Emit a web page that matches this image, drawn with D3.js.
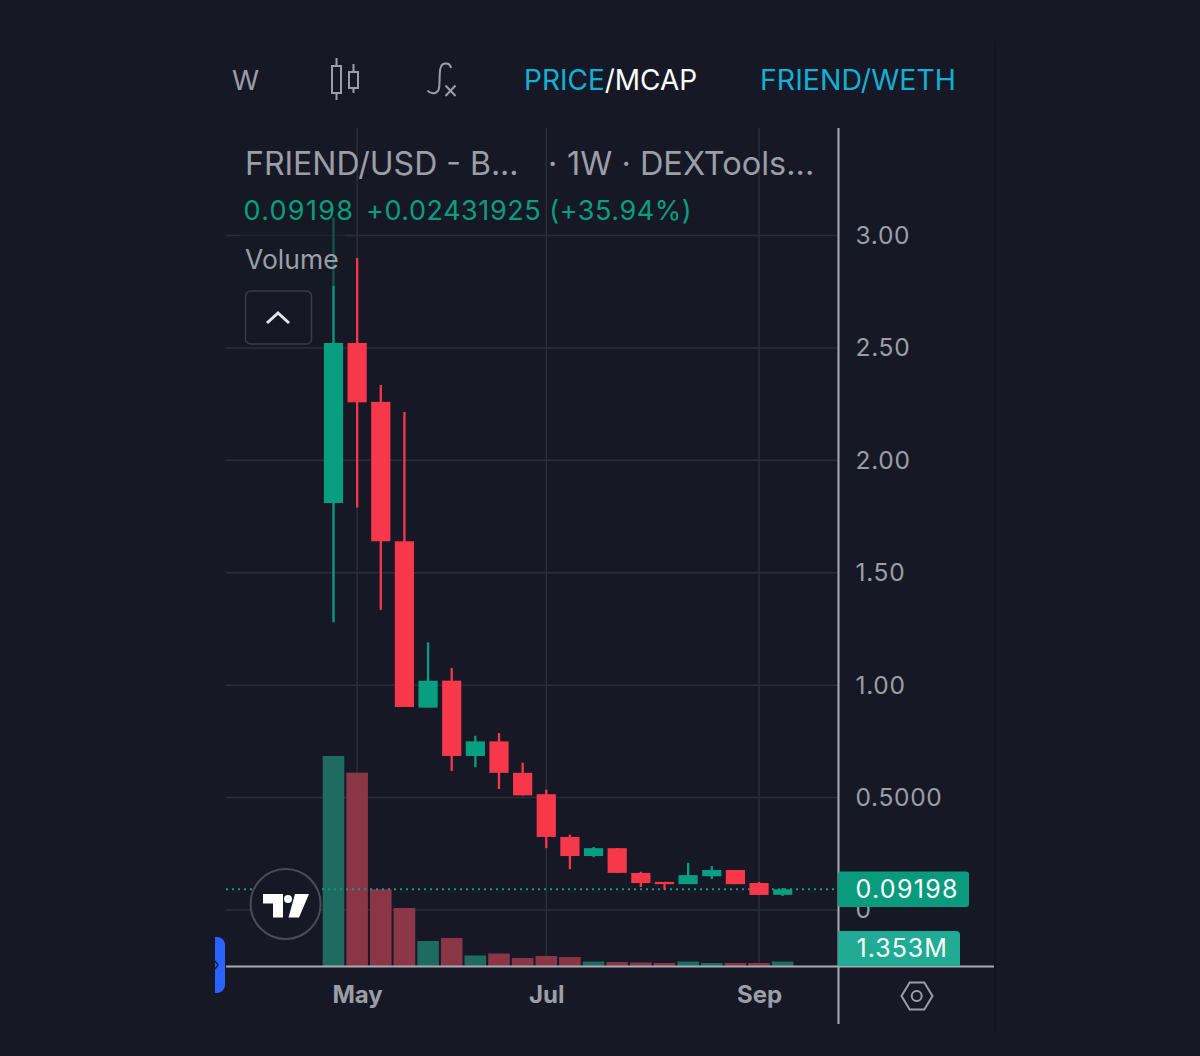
<!DOCTYPE html>
<html><head><meta charset="utf-8">
<script src="https://cdn.jsdelivr.net/npm/d3@7/dist/d3.min.js"></script>
<style>html,body{margin:0;padding:0;background:#161925;overflow:hidden}svg{display:block}text{font-family:Inter,"Noto Sans",sans-serif}</style>
</head><body><svg id="c" width="1200" height="1056"></svg>
<script>
const weeks=["2023-04-30","2023-05-07","2023-05-14","2023-05-21","2023-05-28","2023-06-04","2023-06-11","2023-06-18","2023-06-25","2023-07-02","2023-07-09","2023-07-16","2023-07-23","2023-07-30","2023-08-06","2023-08-13","2023-08-20","2023-08-27","2023-09-03","2023-09-10"].map(d=>new Date(d+"T00:00:00Z"));
const opens =[1.81,2.522,2.26,1.64,0.90,1.02,0.685,0.75,0.61,0.515,0.325,0.24,0.275,0.165,0.125,0.115,0.15,0.178,0.12,0.0677];
const highs =[3.08,2.90,2.335,2.215,1.19,1.076,0.775,0.787,0.655,0.535,0.335,0.28,0.275,0.17,0.125,0.21,0.195,0.178,0.125,0.098];
const lows  =[1.28,1.79,1.335,0.903,0.90,0.618,0.635,0.538,0.51,0.275,0.182,0.235,0.165,0.102,0.09,0.115,0.138,0.115,0.067,0.063];
const closes=[2.522,2.258,1.64,0.903,1.02,0.685,0.75,0.61,0.51,0.325,0.24,0.275,0.165,0.12,0.115,0.155,0.178,0.115,0.067,0.09198];
const volumes=[63,58,23,17.4,7.5,8.4,3.15,3.75,2.4,3,2.7,1.35,1.2,1.05,0.9,1.35,0.9,0.9,0.9,1.353];
const priceTicks=[3,2.5,2,1.5,1,0.5,0];
const priceLabels=["3.00","2.50","2.00","1.50","1.00","0.5000","0"];
const monthTicks=[new Date("2023-05-07T00:00:00Z"),new Date("2023-07-02T00:00:00Z"),new Date("2023-09-03T00:00:00Z")];
const monthLabels=["May","Jul","Sep"];
const lastPrice=0.09198, lastVolume="1.353M", lastPriceLabel="0.09198";
const legendPrice="0.09198", legendChange="+0.02431925 (+35.94%)";

const UP="#089f80",DOWN="#f7384a",GRID="#2b2e39",AXIS="#a9abb3",TXT="#9c9ea7",BG="#161925",CYAN="#13b0d6",VOLUP="#1f6b62",VOLDN="#8a3646";
const svg=d3.select("#c");
svg.append("rect").attr("width",1200).attr("height",1056).attr("fill",BG);
svg.append("line").attr("x1",995).attr("x2",995).attr("y1",42).attr("y2",1032).attr("stroke","#12141d").attr("stroke-width",1.5);

const x=d3.scaleUtc().domain([weeks[0],weeks[19]]).range([333.5,782.7]);
const y=d3.scaleLinear().domain([0,3]).range([910,235.5]);
const v=d3.scaleLinear().domain([0,63]).range([966,756]);

// grid
svg.append("g").selectAll("line").data(priceTicks).join("line")
  .attr("x1",226).attr("x2",838).attr("y1",d=>y(d)).attr("y2",d=>y(d)).attr("stroke",GRID).attr("stroke-width",1.5);
svg.append("g").selectAll("line").data(monthTicks).join("line")
  .attr("x1",d=>x(d)).attr("x2",d=>x(d)).attr("y1",128).attr("y2",966).attr("stroke",GRID).attr("stroke-width",1.5);

// volume
svg.append("g").selectAll("rect").data(volumes).join("rect")
  .attr("x",(d,i)=>x(weeks[i])-10.8).attr("width",21.6)
  .attr("y",d=>v(d)).attr("height",d=>966-v(d))
  .attr("fill",(d,i)=>closes[i]>=opens[i]?VOLUP:VOLDN);

// last price line
svg.append("line").attr("x1",226).attr("x2",838).attr("y1",y(lastPrice)).attr("y2",y(lastPrice))
  .attr("stroke",UP).attr("stroke-width",2).attr("stroke-dasharray","2 4");

// candles
const cg=svg.append("g");
cg.selectAll("line").data(weeks).join("line")
  .attr("x1",d=>x(d)).attr("x2",d=>x(d))
  .attr("y1",(d,i)=>y(highs[i])).attr("y2",(d,i)=>y(lows[i]))
  .attr("stroke",(d,i)=>closes[i]>=opens[i]?UP:DOWN).attr("stroke-width",2.3);
cg.selectAll("rect").data(weeks).join("rect")
  .attr("x",d=>x(d)-9.6).attr("width",19.2)
  .attr("y",(d,i)=>y(Math.max(opens[i],closes[i])))
  .attr("height",(d,i)=>Math.max(1.5,Math.abs(y(opens[i])-y(closes[i]))))
  .attr("fill",(d,i)=>closes[i]>=opens[i]?UP:DOWN);

// legend veil
svg.append("rect").attr("x",240).attr("y",190).attr("width",105).attr("height",96).attr("fill",BG).attr("opacity",.55);

// axes
const ax=d3.axisRight(y).tickValues(priceTicks).tickFormat((d,i)=>priceLabels[i]).tickSize(0).tickPadding(0);
const ga=svg.append("g").attr("transform","translate(855.5,0)").call(ax);
ga.select(".domain").remove();
ga.selectAll("text").attr("font-size",24.5).attr("fill",TXT).attr("letter-spacing",.7).style("font-family","Inter");
const bx=d3.axisBottom(x).tickValues(monthTicks).tickFormat((d,i)=>monthLabels[i]).tickSize(0).tickPadding(0);
const gb=svg.append("g").attr("transform","translate(0,985.5)").call(bx);
gb.select(".domain").remove();
gb.selectAll("text").attr("font-size",24).attr("font-weight",700).attr("fill",TXT).style("font-family","Inter");

svg.append("line").attr("x1",838.5).attr("x2",838.5).attr("y1",128).attr("y2",1024).attr("stroke",AXIS).attr("stroke-width",2);
svg.append("line").attr("x1",226).attr("x2",994).attr("y1",966.5).attr("y2",966.5).attr("stroke",AXIS).attr("stroke-width",2);

// price tags
svg.append("rect").attr("x",838).attr("y",871.5).attr("width",131).attr("height",35.5).attr("rx",3).attr("fill","#0a9a7e");
svg.append("text").attr("x",855.5).attr("y",898).attr("font-size",25).attr("fill","#fff").attr("letter-spacing",1.3).text(lastPriceLabel);
svg.append("path").attr("d","M838 931h118a4 4 0 0 1 4 4v31h-122z").attr("fill","#21ab94");
svg.append("text").attr("x",856.5).attr("y",957).attr("font-size",25).attr("fill","#fff").attr("letter-spacing",1).text(lastVolume);

// header
function t(s,xp,yp,fs,fill,ls){return svg.append("text").attr("x",xp).attr("y",yp).attr("font-size",fs).attr("fill",fill).attr("letter-spacing",ls||0).text(s);}
t("W",232,90,27.5,TXT);
const pm=t("",524,90,28,CYAN);
pm.append("tspan").text("PRICE");
pm.append("tspan").attr("fill","#fff").text("/MCAP");
t("FRIEND/WETH",760,90,28.5,CYAN);
t("FRIEND/USD - B...",245,175,32,TXT);
t("·",548,175,32,TXT);
t("1W · DEXTools...",567,175,32.5,TXT);
t(legendPrice,243.5,220,27,UP,1.3);
t(legendChange,366,220,27,UP,.55);
t("Volume",245,269,26.5,TXT);

// icons
const ic=svg.append("g").attr("fill","none").attr("stroke",TXT).attr("stroke-width",2);
ic.append("rect").attr("x",332).attr("y",66).attr("width",9).attr("height",27);
ic.append("path").attr("d","M336.5 58v8M336.5 93v7");
ic.append("rect").attr("x",349).attr("y",72).attr("width",9).attr("height",16);
ic.append("path").attr("d","M353.5 64v8M353.5 88v5");
ic.append("path").attr("d","M451 68c-1-6-9-6-10.500 0-1.500 5-.5 17-1.500 20-1 6-8 7-11.500 2.500");
ic.append("path").attr("d","M445.500 85.500l10 10.500M455.500 85.500l-10 10.500");
// button
svg.append("rect").attr("x",245.5).attr("y",291).attr("width",66).attr("height",53).attr("rx",5).attr("fill",BG).attr("stroke","#3a3c47").attr("stroke-width",1.5);
svg.append("path").attr("d","M267 323l11-10 11 10").attr("fill","none").attr("stroke","#e4e4ea").attr("stroke-width",3);
// logo
svg.append("circle").attr("cx",285.6).attr("cy",904).attr("r",35).attr("fill",BG).attr("stroke","#4a4c56").attr("stroke-width",2);
svg.append("path").attr("fill","#fff").attr("d","M263 894h20v23.500h-10v-14h-10zM295 894h14l-10 23.500h-10.500z");
svg.append("circle").attr("cx",288).attr("cy",899).attr("r",4).attr("fill","#fff");
// handle
svg.append("path").attr("d","M215 937h2a8 8 0 0 1 8 8v40a8 8 0 0 1-8 8h-2z").attr("fill","#2962ff");
svg.append("path").attr("d","M215 961l3 4-3 4").attr("fill","none").attr("stroke","#15203f").attr("stroke-width",1.5);
// hexagon
svg.append("path").attr("d","M901.500 996l8.200-13.500h14.600l8.200 13.500-8.200 13.500h-14.600z").attr("fill","none").attr("stroke",TXT).attr("stroke-width",2);
svg.append("circle").attr("cx",916.7).attr("cy",996).attr("r",5).attr("fill","none").attr("stroke",TXT).attr("stroke-width",2);
</script></body></html>
